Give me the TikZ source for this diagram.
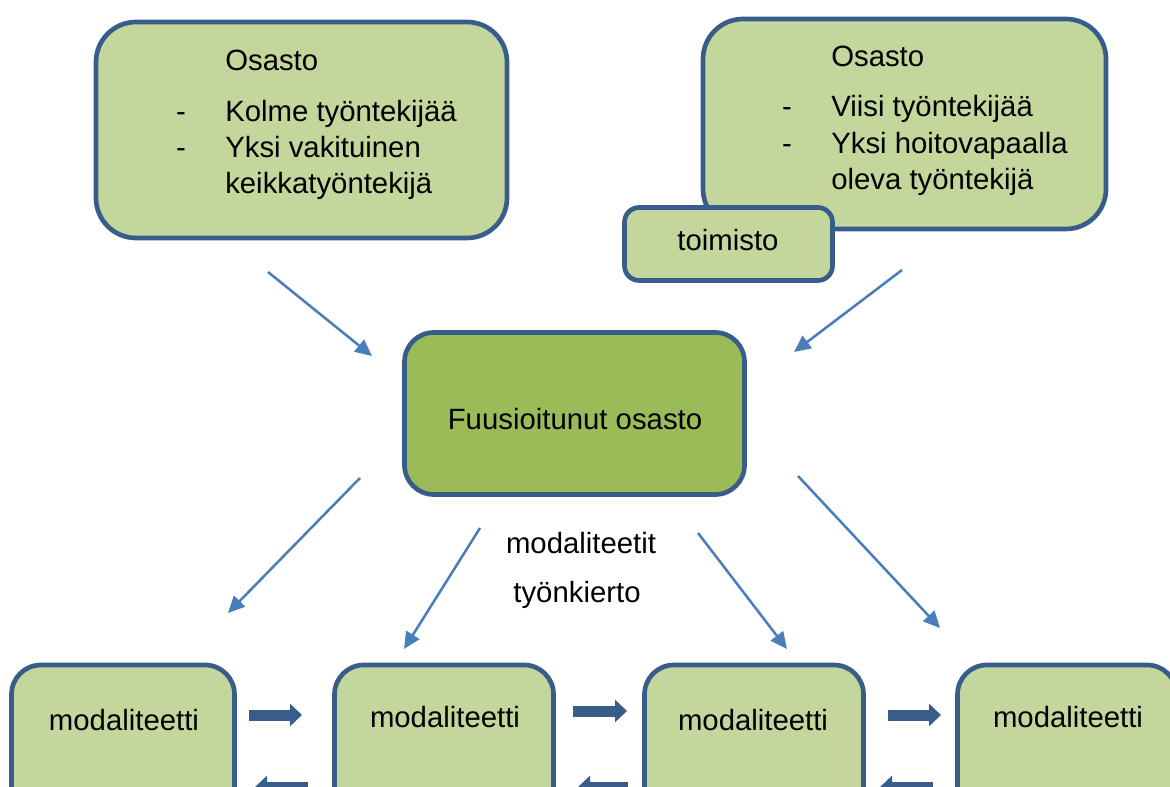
\documentclass[tikz,border=0pt]{standalone}
\usepackage{fontspec}
\setmainfont{Liberation Sans}
\usetikzlibrary{arrows.meta}
\definecolor{bordc}{HTML}{385D8A}
\definecolor{lightg}{HTML}{C3D69B}
\definecolor{midg}{HTML}{9BBB59}
\definecolor{thinc}{HTML}{4A7EBB}
\begin{document}
\begin{tikzpicture}[x=0.75pt,y=-0.75pt,
  box/.style={draw=bordc, line width=3.5pt, fill=lightg, rounded corners=#1, inner sep=0pt},
  txt/.style={font=\fontsize{22}{26}\selectfont, inner sep=0pt, text=black},
  thin/.style={draw=thinc, line width=1.9pt, -{Triangle[length=12.5pt,width=11.5pt]}},
  thick/.style={draw=bordc, line width=8.25pt, -{Triangle[length=9pt,width=16.5pt]}}]
\useasboundingbox (0,0) rectangle (1170,787);
\clip (0,0) rectangle (1170,787);

% top left
\node[box=30pt, minimum width=308.25pt, minimum height=162pt] (tl) at (301.5,130) {};
\node[txt, anchor=base west] (tl0) at (225,71) {Osasto};
\node[txt, anchor=base] (tld1) at (181,122) {-};
\node[txt, anchor=base west] (tl1) at (225,122) {Kolme työntekijää};
\node[txt, anchor=base] (tld2) at (181,158) {-};
\node[txt, anchor=base west] (tl2) at (225,158) {Yksi vakituinen};
\node[txt, anchor=base west] (tl3) at (225,194) {keikkatyöntekijä};

% top right
\node[box=30pt, minimum width=302.25pt, minimum height=157.5pt] (tr) at (904.5,124) {};
\node[txt, anchor=base west] (tr0) at (831,67) {Osasto};
\node[txt, anchor=base] (trd1) at (787,117) {-};
\node[txt, anchor=base west] (tr1) at (831,117) {Viisi työntekijää};
\node[txt, anchor=base] (trd2) at (787,154) {-};
\node[txt, anchor=base west] (tr2) at (831,154) {Yksi hoitovapaalla};
\node[txt, anchor=base west] (tr3) at (831,190) {oleva työntekijä};

% toimisto
\node[box=11pt, minimum width=156pt, minimum height=54.75pt] (to) at (728.5,244) {};
\node[txt, anchor=base] (tot) at (728,251) {toimisto};

% center
\node[box=22pt, fill=midg, minimum width=255pt, minimum height=121.5pt] (c) at (574.5,413.5) {};
\node[txt, anchor=base] (ct) at (575,430) {Fuusioitunut osasto};

\node[txt, anchor=base] (m1) at (581,553) {modaliteetit};
\node[txt, anchor=base] (m2) at (577,602) {työnkierto};

% bottom boxes
\node[box=22pt, minimum width=167.25pt, minimum height=153.75pt] (b1) at (123,767.5) {};
\node[box=22pt, minimum width=164.25pt, minimum height=153.75pt] (b2) at (444,767.5) {};
\node[box=22pt, minimum width=164.25pt, minimum height=153.75pt] (b3) at (754,767.5) {};
\node[box=22pt, minimum width=164.25pt, minimum height=153.75pt] (b4) at (1067,767.5) {};
\node[txt, anchor=base] (b1t) at (124,730) {modaliteetti};
\node[txt, anchor=base] (b2t) at (445,727) {modaliteetti};
\node[txt, anchor=base] (b3t) at (753,730) {modaliteetti};
\node[txt, anchor=base] (b4t) at (1068,727) {modaliteetti};

% thin arrows
\coordinate (a1s) at (268,272); \coordinate (a1e) at (372,356);
\coordinate (a2s) at (902,270); \coordinate (a2e) at (794,352);
\coordinate (a3s) at (360,478); \coordinate (a3e) at (228,613);
\coordinate (a4s) at (480,528); \coordinate (a4e) at (404,649);
\coordinate (a5s) at (698,533); \coordinate (a5e) at (787,649);
\coordinate (a6s) at (798,476); \coordinate (a6e) at (940,628);
\draw[thin] (a1s) -- (a1e);
\draw[thin] (a2s) -- (a2e);
\draw[thin] (a3s) -- (a3e);
\draw[thin] (a4s) -- (a4e);
\draw[thin] (a5s) -- (a5e);
\draw[thin] (a6s) -- (a6e);

% thick arrows
\coordinate (r1s) at (249,715); \coordinate (r1e) at (302,715);
\coordinate (r2s) at (573,711); \coordinate (r2e) at (627,711);
\coordinate (r3s) at (888,715); \coordinate (r3e) at (941,715);
\coordinate (l1s) at (308,787); \coordinate (l1e) at (255,787);
\coordinate (l2s) at (628,787); \coordinate (l2e) at (578,787);
\coordinate (l3s) at (933,787); \coordinate (l3e) at (880,787);
\draw[thick] (r1s) -- (r1e);
\draw[thick] (r2s) -- (r2e);
\draw[thick] (r3s) -- (r3e);
\draw[thick] (l1s) -- (l1e);
\draw[thick] (l2s) -- (l2e);
\draw[thick] (l3s) -- (l3e);
\end{tikzpicture}
\end{document}
